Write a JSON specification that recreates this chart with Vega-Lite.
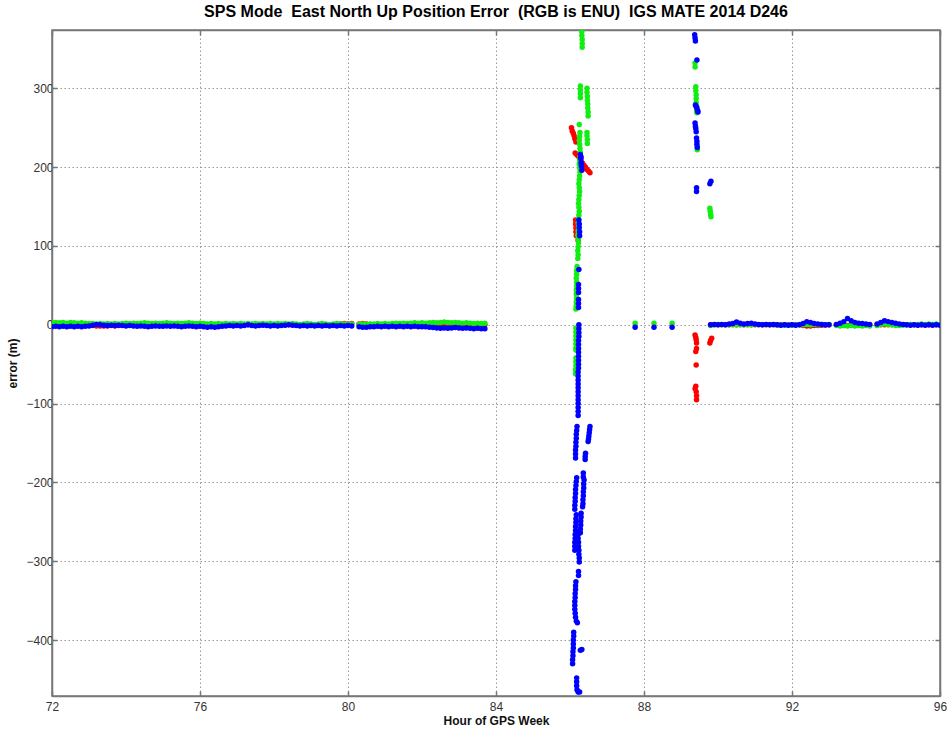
{
"$schema": "https://vega.github.io/schema/vega-lite/v6.json",
"width": 888, "height": 666,
"autosize": {"type": "none"},
"padding": {"left": 52, "top": 30, "right": 9, "bottom": 38},
"background": "white",
"title": {"text": "SPS Mode\u00a0 East North Up Position Error\u00a0 (RGB is ENU)\u00a0 IGS MATE 2014 D246", "font": "Liberation Sans", "fontSize": 16, "fontWeight": "bold", "color": "#000", "anchor": "middle", "offset": 9},
"config": {
  "view": {"stroke": "#777", "strokeWidth": 1.5},
  "axis": {"labelFont": "Liberation Sans", "labelFontSize": 12, "labelColor": "#333", "labelFlush": false, "titleFont": "Liberation Sans", "titleFontSize": 12, "titleFontWeight": "bold", "titleColor": "#111", "domainColor": "#777", "domainWidth": 1.5, "tickColor": "#777", "tickWidth": 1.5, "tickSize": -5, "labelPadding": 4, "gridColor": "#999", "gridDash": [1.5, 2.5], "gridWidth": 1}
},
"data": {"values": [
{"h":72.0,"e":0,"n":2.5,"u":-2.5},{"h":72.1,"e":0,"n":3,"u":-2},{"h":72.2,"e":0.5,"n":2.5,"u":-2.5},{"h":72.3,"e":0,"n":3,"u":-2},{"h":72.4,"e":0,"n":2,"u":-2.5},{"h":72.5,"e":0.5,"n":3,"u":-2},{"h":72.6,"e":0,"n":2.5,"u":-2.5},{"h":72.7,"e":0,"n":2,"u":-2},{"h":72.8,"e":0.5,"n":2.5,"u":-2.5},{"h":72.9,"e":0,"n":2,"u":-2},
{"h":73.0,"e":-0.5,"n":1.5,"u":-1.5},{"h":73.1,"e":-1,"n":1.5,"u":-0.5},{"h":73.2,"e":-1.5,"n":1,"u":0.5},{"h":73.3,"e":-1.5,"n":1.5,"u":0},{"h":73.4,"e":-1.5,"n":1,"u":-0.5},{"h":73.5,"e":-1.5,"n":1.5,"u":-1},{"h":73.6,"e":-1,"n":1,"u":-0.5},{"h":73.7,"e":-1.5,"n":1.5,"u":-1},{"h":73.8,"e":-1,"n":1,"u":-0.5},{"h":73.9,"e":-0.5,"n":1.5,"u":-1},
{"h":74.0,"e":0,"n":2,"u":-1.5},{"h":74.1,"e":0,"n":1.5,"u":-1},{"h":74.2,"e":0.5,"n":2,"u":-1.5},{"h":74.3,"e":0,"n":1.5,"u":-2},{"h":74.4,"e":0,"n":2,"u":-1.5},{"h":74.5,"e":0,"n":2.5,"u":-2},{"h":74.6,"e":0.5,"n":2,"u":-2.5},{"h":74.7,"e":0,"n":1.5,"u":-2},{"h":74.8,"e":0,"n":2,"u":-1.5},{"h":74.9,"e":0,"n":1.5,"u":-2},
{"h":75.0,"e":0,"n":2,"u":-2},{"h":75.1,"e":0.5,"n":2.5,"u":-1.5},{"h":75.2,"e":0,"n":2,"u":-2},{"h":75.3,"e":0,"n":1.5,"u":-1.5},{"h":75.4,"e":0,"n":2,"u":-2},{"h":75.5,"e":0.5,"n":1.5,"u":-2.5},{"h":75.6,"e":0,"n":2,"u":-2},{"h":75.7,"e":0,"n":2.5,"u":-1.5},{"h":75.8,"e":0,"n":2,"u":-2},{"h":75.9,"e":0,"n":1.5,"u":-2.5},
{"h":76.0,"e":0,"n":2,"u":-2},{"h":76.1,"e":0,"n":1.5,"u":-2.5},{"h":76.2,"e":0.5,"n":1,"u":-3},{"h":76.3,"e":0,"n":1.5,"u":-2.5},{"h":76.4,"e":0,"n":1,"u":-3},{"h":76.5,"e":0,"n":1.5,"u":-2.5},{"h":76.6,"e":0,"n":1,"u":-2},{"h":76.7,"e":0,"n":1.5,"u":-1.5},{"h":76.8,"e":-0.5,"n":1,"u":-1},{"h":76.9,"e":0,"n":1.5,"u":-1.5},
{"h":77.0,"e":0,"n":1,"u":-1},{"h":77.1,"e":0,"n":1.5,"u":-1.5},{"h":77.2,"e":0,"n":1,"u":-1},{"h":77.3,"e":0,"n":1.5,"u":0},{"h":77.4,"e":0,"n":1,"u":-1},{"h":77.5,"e":0,"n":1.5,"u":-1.5},{"h":77.6,"e":0,"n":1,"u":-1},{"h":77.7,"e":0,"n":1.5,"u":-0.5},{"h":77.8,"e":0,"n":1,"u":-1},{"h":77.9,"e":0,"n":1.5,"u":-1.5},
{"h":78.0,"e":0,"n":1,"u":-1},{"h":78.1,"e":0,"n":1.5,"u":-1.5},{"h":78.2,"e":0,"n":1,"u":-1},{"h":78.3,"e":0,"n":1.5,"u":-0.5},{"h":78.4,"e":0,"n":1,"u":0},{"h":78.5,"e":0,"n":1.5,"u":-0.5},{"h":78.6,"e":0,"n":1,"u":-1},{"h":78.7,"e":0,"n":0.5,"u":-1.5},{"h":78.8,"e":0,"n":1,"u":-1},{"h":78.9,"e":0,"n":1.5,"u":-1.5},
{"h":79.0,"e":0,"n":1,"u":-1},{"h":79.1,"e":0,"n":0.5,"u":-1.5},{"h":79.2,"e":0,"n":1,"u":-1},{"h":79.3,"e":0,"n":1.5,"u":-1.5},{"h":79.4,"e":-0.5,"n":1,"u":-1},{"h":79.5,"e":0,"n":0.5,"u":-1.5},{"h":79.6,"e":0,"n":1,"u":-1},{"h":79.7,"e":0,"n":1.5,"u":-1.5},{"h":79.8,"e":1,"n":1,"u":-1},{"h":79.9,"e":1.5,"n":1,"u":-1.5},
{"h":80.0,"e":1,"n":0.5,"u":-1},{"h":80.1,"e":1.5,"n":1,"u":-1.5},{"h":80.3,"e":1,"n":0.5,"u":-2.5},{"h":80.4,"e":1.5,"n":1,"u":-3},{"h":80.5,"e":1,"n":0.5,"u":-3},{"h":80.6,"e":0.5,"n":1,"u":-2.5},{"h":80.7,"e":0,"n":1,"u":-2.5},{"h":80.8,"e":0,"n":1.5,"u":-2},{"h":80.9,"e":0,"n":1,"u":-2.5},
{"h":81.0,"e":0,"n":1.5,"u":-2},{"h":81.1,"e":0,"n":1,"u":-2.5},{"h":81.2,"e":0,"n":1.5,"u":-2},{"h":81.3,"e":0,"n":2,"u":-2.5},{"h":81.4,"e":0,"n":1.5,"u":-2},{"h":81.5,"e":0,"n":2,"u":-2.5},{"h":81.6,"e":0,"n":1.5,"u":-2},{"h":81.7,"e":0,"n":2,"u":-2.5},{"h":81.8,"e":0,"n":2.5,"u":-2},{"h":81.9,"e":0,"n":2,"u":-2.5},
{"h":82.0,"e":0,"n":2.5,"u":-2.5},{"h":82.1,"e":0,"n":2,"u":-2.5},{"h":82.2,"e":0,"n":2.5,"u":-3},{"h":82.3,"e":0,"n":3,"u":-3.5},{"h":82.4,"e":0,"n":2.5,"u":-4},{"h":82.5,"e":0,"n":3,"u":-4.5},{"h":82.6,"e":0,"n":3.5,"u":-4},{"h":82.7,"e":0,"n":3,"u":-4.5},{"h":82.8,"e":0,"n":2.5,"u":-4},{"h":82.9,"e":0,"n":3,"u":-3.5},
{"h":83.0,"e":0,"n":2.5,"u":-4},{"h":83.1,"e":0,"n":2,"u":-4.5},{"h":83.2,"e":0,"n":2.5,"u":-4},{"h":83.3,"e":0,"n":2,"u":-4.5},{"h":83.4,"e":0,"n":1.5,"u":-5},{"h":83.5,"e":0,"n":2,"u":-4.5},{"h":83.6,"e":0,"n":1.5,"u":-5},{"h":83.7,"e":0,"n":2,"u":-5},
{"h":89.8,"e":0,"n":-1,"u":0},{"h":89.9,"e":0,"n":0,"u":0.5},{"h":90.0,"e":0,"n":0.5,"u":0},{"h":90.1,"e":0,"n":0,"u":0.5},{"h":90.2,"e":0,"n":0.5,"u":0},{"h":90.3,"e":0,"n":0,"u":1},{"h":90.4,"e":0,"n":0.5,"u":1.5},{"h":90.5,"e":0,"n":0,"u":3.5},{"h":90.6,"e":0,"n":0.5,"u":2},{"h":90.7,"e":0,"n":0,"u":1},{"h":90.8,"e":0,"n":0.5,"u":1.5},{"h":90.9,"e":0,"n":0,"u":2},
{"h":91.0,"e":0,"n":0.5,"u":1},{"h":91.1,"e":0,"n":0,"u":0.5},{"h":91.2,"e":0,"n":0.5,"u":0},{"h":91.3,"e":0,"n":0,"u":0.5},{"h":91.4,"e":0,"n":0.5,"u":0},{"h":91.5,"e":0,"n":0,"u":0.5},{"h":91.6,"e":0,"n":-0.5,"u":0},{"h":91.7,"e":0,"n":0,"u":-0.5},{"h":91.8,"e":0,"n":-0.5,"u":0},{"h":91.9,"e":0,"n":0,"u":-0.5},
{"h":92.0,"e":0,"n":-0.5,"u":0},{"h":92.1,"e":0,"n":0,"u":-0.5},{"h":92.2,"e":0,"n":0.5,"u":0},{"h":92.3,"e":-1,"n":0,"u":1.5},{"h":92.4,"e":-1.5,"n":0.5,"u":4},{"h":92.5,"e":-1.5,"n":0,"u":3},{"h":92.6,"e":-1,"n":0.5,"u":1.5},{"h":92.7,"e":-1,"n":0,"u":1},{"h":92.8,"e":-0.5,"n":0.5,"u":0.5},{"h":92.9,"e":-0.5,"n":0,"u":0},
{"h":93.0,"e":0,"n":0.5,"u":0},{"h":93.2,"e":0,"n":-1,"u":0.5},{"h":93.3,"e":0,"n":-1.5,"u":2},{"h":93.4,"e":-1,"n":-1,"u":4},{"h":93.5,"e":-1,"n":-1.5,"u":8},{"h":93.6,"e":-0.5,"n":-1,"u":5},{"h":93.7,"e":0,"n":-1.5,"u":3},{"h":93.8,"e":0,"n":-1,"u":2},{"h":93.9,"e":0,"n":-1.5,"u":1.5},
{"h":94.0,"e":0,"n":-1,"u":1},{"h":94.1,"e":0,"n":-1.5,"u":0.5},{"h":94.3,"e":0,"n":-1,"u":1},{"h":94.4,"e":0,"n":0.5,"u":3},{"h":94.5,"e":0,"n":1,"u":5},{"h":94.6,"e":0,"n":0.5,"u":4},{"h":94.7,"e":0,"n":0,"u":3},{"h":94.8,"e":0,"n":-1,"u":2},{"h":94.9,"e":0,"n":-1,"u":1},
{"h":95.0,"e":0,"n":-0.5,"u":0.5},{"h":95.1,"e":0,"n":0,"u":0},{"h":95.2,"e":0,"n":0.5,"u":-0.5},{"h":95.3,"e":0,"n":0,"u":0},{"h":95.4,"e":0,"n":0.5,"u":-0.5},{"h":95.5,"e":0,"n":1,"u":0},{"h":95.6,"e":0,"n":0.5,"u":-0.5},{"h":95.7,"e":0,"n":1,"u":0},{"h":95.8,"e":0,"n":0.5,"u":-0.5},{"h":95.9,"e":0,"n":1,"u":0},{"h":96.0,"e":0,"n":0.5,"u":-0.5},
{"h":87.76,"n":2,"u":-3},{"h":88.27,"n":2,"u":-3},{"h":88.76,"n":2,"u":-3},
{"h":86.32,"n":372},{"h":86.32,"n":367},{"h":86.33,"n":362},{"h":86.33,"n":357},{"h":86.33,"n":352},
{"h":86.28,"n":303},{"h":86.28,"n":298},{"h":86.28,"n":293},{"h":86.28,"n":288},
{"h":86.46,"n":300},{"h":86.46,"n":295},{"h":86.47,"n":290},{"h":86.47,"n":285},{"h":86.48,"n":280},{"h":86.48,"n":275},{"h":86.49,"n":270},{"h":86.49,"n":265},
{"h":86.25,"n":254},
{"h":86.46,"n":244},{"h":86.46,"n":240},{"h":86.47,"n":235},{"h":86.47,"n":230},
{"h":86.27,"n":244},{"h":86.26,"n":239},{"h":86.25,"n":234},{"h":86.26,"n":229},{"h":86.27,"n":224},{"h":86.28,"n":219},{"h":86.27,"n":214},{"h":86.26,"n":209},{"h":86.25,"n":204},{"h":86.26,"n":199},{"h":86.27,"n":194},{"h":86.26,"n":189},{"h":86.25,"n":184},{"h":86.24,"n":179},{"h":86.25,"n":174},{"h":86.26,"n":169},{"h":86.25,"n":164},{"h":86.24,"n":159},{"h":86.23,"n":154},{"h":86.24,"n":149},{"h":86.25,"n":144},{"h":86.24,"n":139},{"h":86.23,"n":134},{"h":86.22,"n":129},{"h":86.23,"n":124},{"h":86.22,"n":119},{"h":86.21,"n":114},{"h":86.22,"n":109},{"h":86.23,"n":104},{"h":86.22,"n":99},{"h":86.21,"n":94},{"h":86.22,"n":89},{"h":86.21,"n":84},
{"h":86.19,"n":74},{"h":86.18,"n":69},{"h":86.18,"n":64},{"h":86.17,"n":59},{"h":86.18,"n":54},{"h":86.18,"n":49},{"h":86.17,"n":44},{"h":86.17,"n":39},{"h":86.18,"n":34},{"h":86.17,"n":29},{"h":86.17,"n":24},{"h":86.16,"n":20},
{"h":86.16,"n":-4},{"h":86.16,"n":-9},{"h":86.16,"n":-14},{"h":86.16,"n":-19},{"h":86.16,"n":-24},{"h":86.16,"n":-29},{"h":86.16,"n":-32},
{"h":86.16,"n":-42},{"h":86.16,"n":-47},{"h":86.16,"n":-52},{"h":86.15,"n":-57},{"h":86.15,"n":-62},
{"h":86.04,"e":250},{"h":86.06,"e":246},{"h":86.09,"e":243},{"h":86.11,"e":240},{"h":86.13,"e":236},{"h":86.16,"e":232},
{"h":86.14,"e":218},{"h":86.18,"e":216},{"h":86.22,"e":214},{"h":86.26,"e":211},{"h":86.30,"e":208},{"h":86.34,"e":205},{"h":86.38,"e":202},{"h":86.42,"e":200},{"h":86.46,"e":197},{"h":86.50,"e":195},{"h":86.54,"e":193},
{"h":86.15,"e":133},{"h":86.15,"e":128},{"h":86.16,"e":123},{"h":86.16,"e":118},{"h":86.17,"e":113},{"h":86.22,"e":107},
{"h":86.28,"u":216},{"h":86.30,"u":213},{"h":86.29,"u":211},{"h":86.30,"u":206},{"h":86.31,"u":203},{"h":86.31,"u":201},{"h":86.32,"u":196},
{"h":86.24,"u":133},{"h":86.25,"u":128},{"h":86.25,"u":123},{"h":86.26,"u":118},{"h":86.26,"u":113},
{"h":86.24,"u":70},
{"h":86.23,"u":51},{"h":86.23,"u":46},{"h":86.23,"u":41},
{"h":86.23,"u":32},{"h":86.23,"u":27},{"h":86.23,"u":22},
{"h":86.24,"u":0},{"h":86.24,"u":-5},{"h":86.24,"u":-10},{"h":86.24,"u":-15},{"h":86.23,"u":-20},{"h":86.23,"u":-25},{"h":86.23,"u":-30},{"h":86.23,"u":-35},{"h":86.23,"u":-40},{"h":86.23,"u":-45},{"h":86.23,"u":-50},{"h":86.23,"u":-55},{"h":86.22,"u":-60},{"h":86.22,"u":-65},{"h":86.22,"u":-70},{"h":86.22,"u":-75},{"h":86.22,"u":-80},{"h":86.22,"u":-85},{"h":86.22,"u":-90},{"h":86.22,"u":-95},{"h":86.22,"u":-100},{"h":86.22,"u":-105},{"h":86.22,"u":-110},{"h":86.22,"u":-115},
{"h":86.19,"u":-129},{"h":86.18,"u":-134},{"h":86.17,"u":-139},{"h":86.17,"u":-144},{"h":86.16,"u":-149},{"h":86.16,"u":-154},{"h":86.15,"u":-159},{"h":86.15,"u":-164},{"h":86.15,"u":-169},
{"h":86.54,"u":-129},{"h":86.53,"u":-133},{"h":86.52,"u":-137},{"h":86.51,"u":-141},{"h":86.50,"u":-145},{"h":86.49,"u":-148},
{"h":86.42,"u":-163},{"h":86.41,"u":-167},{"h":86.41,"u":-171},
{"h":86.36,"u":-188},{"h":86.36,"u":-193},
{"h":86.18,"u":-194},{"h":86.17,"u":-199},{"h":86.16,"u":-204},{"h":86.15,"u":-209},{"h":86.15,"u":-214},{"h":86.14,"u":-219},{"h":86.14,"u":-224},{"h":86.13,"u":-229},{"h":86.13,"u":-234},
{"h":86.38,"u":-197},{"h":86.37,"u":-202},{"h":86.37,"u":-207},{"h":86.36,"u":-212},{"h":86.36,"u":-217},{"h":86.35,"u":-222},{"h":86.35,"u":-227},{"h":86.34,"u":-231},
{"h":86.17,"u":-241},{"h":86.16,"u":-246},{"h":86.16,"u":-251},{"h":86.15,"u":-256},{"h":86.15,"u":-261},{"h":86.14,"u":-266},{"h":86.14,"u":-271},{"h":86.13,"u":-276},{"h":86.13,"u":-281},{"h":86.13,"u":-286},
{"h":86.30,"u":-239},{"h":86.30,"u":-244},{"h":86.29,"u":-249},{"h":86.29,"u":-254},{"h":86.28,"u":-259},{"h":86.28,"u":-264},
{"h":86.22,"u":-266},{"h":86.22,"u":-271},{"h":86.23,"u":-276},{"h":86.23,"u":-281},{"h":86.24,"u":-286},{"h":86.24,"u":-291},{"h":86.25,"u":-296},{"h":86.25,"u":-301},
{"h":86.23,"u":-313},{"h":86.23,"u":-318},
{"h":86.16,"u":-326},{"h":86.15,"u":-331},{"h":86.15,"u":-336},{"h":86.14,"u":-341},{"h":86.14,"u":-346},{"h":86.13,"u":-351},{"h":86.13,"u":-356},{"h":86.13,"u":-361},{"h":86.14,"u":-366},{"h":86.15,"u":-371},{"h":86.17,"u":-376},{"h":86.20,"u":-378},
{"h":86.10,"u":-390},{"h":86.10,"u":-395},{"h":86.09,"u":-400},{"h":86.09,"u":-405},{"h":86.09,"u":-410},{"h":86.08,"u":-415},{"h":86.08,"u":-420},{"h":86.07,"u":-425},{"h":86.07,"u":-430},{"h":86.32,"u":-412},{"h":86.28,"u":-413},
{"h":86.18,"u":-448},{"h":86.18,"u":-453},{"h":86.18,"u":-458},{"h":86.19,"u":-463},{"h":86.22,"u":-466},{"h":86.26,"u":-466},
{"h":89.37,"u":368},{"h":89.38,"u":364},{"h":89.39,"u":360},{"h":89.43,"u":336},
{"h":89.38,"n":332},{"h":89.38,"n":327},
{"h":89.40,"n":302},{"h":89.40,"n":297},{"h":89.41,"n":292},{"h":89.41,"n":287},{"h":89.41,"n":282},{"h":89.42,"n":277},{"h":89.42,"n":272},{"h":89.43,"n":269},
{"h":89.39,"u":279},{"h":89.41,"u":277},{"h":89.43,"u":275},{"h":89.45,"u":272},{"h":89.46,"u":270},
{"h":89.38,"u":256},{"h":89.39,"u":252},{"h":89.40,"u":249},{"h":89.41,"u":245},
{"h":89.42,"u":237},{"h":89.43,"u":233},{"h":89.43,"u":229},{"h":89.44,"u":225},
{"h":89.44,"n":226},{"h":89.44,"n":222},
{"h":89.81,"u":182},{"h":89.78,"u":179},
{"h":89.42,"u":174},{"h":89.42,"u":169},
{"h":89.78,"n":148},{"h":89.79,"n":144},{"h":89.80,"n":140},{"h":89.81,"n":137},
{"h":89.38,"e":-13},{"h":89.40,"e":-16},{"h":89.41,"e":-19},{"h":89.42,"e":-23},
{"h":89.83,"e":-17},{"h":89.80,"e":-20},{"h":89.78,"e":-23},
{"h":89.42,"e":-30},{"h":89.40,"e":-34},
{"h":89.41,"e":-51},
{"h":89.40,"e":-78},{"h":89.38,"e":-81},{"h":89.41,"e":-85},{"h":89.42,"e":-90},{"h":89.42,"e":-95}
]},
"transform": [{"fold": ["e", "n", "u"], "as": ["s", "v"]}, {"filter": "isValid(datum.v)"}],
"resolve": {"axis": {"x": "independent", "y": "independent"}},
"layer": [
  {
    "mark": {"type": "circle", "size": 30, "opacity": 1, "clip": true},
    "encoding": {
      "x": {"field": "h", "type": "quantitative", "scale": {"domain": [72, 96], "nice": false, "zero": false}, "axis": {"values": [72, 76, 80, 84, 88, 92, 96], "title": "Hour of GPS Week", "labelPadding": 10, "titlePadding": 3}},
      "y": {"field": "v", "type": "quantitative", "scale": {"domain": [-471, 374], "nice": false, "zero": false}, "axis": {"values": [-400, -300, -200, -100, 0, 100, 200, 300], "title": "error (m)", "titlePadding": 6}},
      "color": {"field": "s", "type": "nominal", "scale": {"domain": ["e", "n", "u"], "range": ["#ff0000", "#11ee11", "#0000ff"]}, "legend": null},
      "order": {"field": "s", "type": "ordinal"}
    }
  },
  {
    "mark": {"type": "circle", "size": 0, "opacity": 0},
    "encoding": {
      "x": {"field": "h", "type": "quantitative", "scale": {"domain": [72, 96], "nice": false, "zero": false}, "axis": {"orient": "top", "values": [72, 76, 80, 84, 88, 92, 96], "labels": false, "title": null, "grid": false}},
      "y": {"field": "v", "type": "quantitative", "scale": {"domain": [-471, 374], "nice": false, "zero": false}, "axis": {"orient": "right", "values": [-400, -300, -200, -100, 0, 100, 200, 300], "labels": false, "title": null, "grid": false}}
    }
  }
]
}
